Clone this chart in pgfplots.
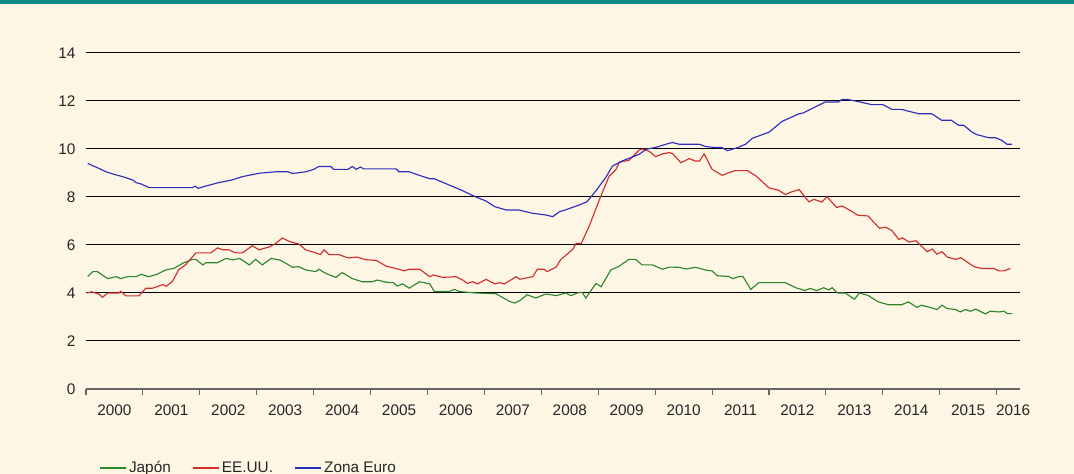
\documentclass[border=0pt]{standalone}
\usepackage{pgfplots}
\pgfplotsset{compat=1.18}
\usepackage{fontspec}
\setmainfont{Liberation Sans}
\definecolor{bgc}{RGB}{253,246,228}
\definecolor{teal1}{RGB}{14,138,138}
\definecolor{cJ}{RGB}{45,135,45}
\definecolor{cU}{RGB}{210,45,45}
\definecolor{cE}{RGB}{45,45,190}
\begin{document}
\begin{tikzpicture}[x=0.75pt,y=0.75pt]
\fill[bgc] (-86,-85) rectangle (988,389);
\fill[teal1] (-86,385) rectangle (988,389);
\begin{axis}[
  at={(0,0)}, anchor=south west,
  scale only axis, width=700.5pt, height=252pt,
  xmin=2000, xmax=2016.41, ymin=0, ymax=14,
  axis x line*=bottom, axis y line*=left,
  x axis line style={draw=black!60, line width=0.8pt},
  y axis line style={draw=none},
  ytick={0,2,...,14},
  ymajorgrids, grid style={black, line width=0.75pt},
  xtick={2000.5,2001.5,2002.5,2003.5,2004.5,2005.5,2006.5,2007.5,2008.5,2009.5,2010.5,2011.5,2012.5,2013.5,2014.5,2015.5,2016.29},
  xticklabels={2000,2001,2002,2003,2004,2005,2006,2007,2008,2009,2010,2011,2012,2013,2014,2015,2016},
  minor xtick={2000,2001,...,2016},
  major tick length=0pt, minor tick length=4.5pt, tick align=outside,
  minor tick style={draw=black!60, line width=0.8pt},
  /pgf/number format/assume math mode=true,
  ticklabel style={font=\fontsize{11.5}{13}\selectfont, text=black!85},
  yticklabel style={xshift=-4.4pt},
  xticklabel style={yshift=-8.5pt},
  yticklabel={\pgfmathprintnumber{\tick}},
  legend columns=-1,
  legend style={draw=none, fill=none, at={(0.0139,-0.235)}, anchor=west,
    font=\fontsize{11.5}{13}\selectfont, text=black!85, inner xsep=0pt,
    /tikz/every even column/.append style={column sep=14pt}},
  legend image code/.code={\draw[#1] (0pt,0pt) -- (19.5pt,0pt);},
  every axis plot/.append style={line width=0.85pt, mark=none},
]
\addplot[cJ] coordinates {
(2000.03,4.68)(2000.12,4.89)(2000.2,4.89)(2000.38,4.60)(2000.53,4.68)(2000.61,4.60)(2000.73,4.68)(2000.88,4.68)(2000.97,4.78)(2001.1,4.68)(2001.25,4.78)(2001.4,4.96)(2001.55,5.03)(2001.7,5.24)(2001.87,5.40)(2001.93,5.40)(2002.05,5.17)(2002.11,5.26)(2002.31,5.26)(2002.46,5.44)(2002.58,5.38)(2002.7,5.44)(2002.87,5.17)(2002.98,5.40)(2003.1,5.17)(2003.25,5.44)(2003.4,5.38)(2003.51,5.24)(2003.63,5.07)(2003.74,5.10)(2003.86,4.96)(2004.04,4.89)(2004.09,4.99)(2004.21,4.82)(2004.39,4.65)(2004.5,4.85)(2004.68,4.60)(2004.85,4.47)(2005.03,4.47)(2005.12,4.54)(2005.27,4.45)(2005.4,4.43)(2005.47,4.29)(2005.56,4.38)(2005.68,4.20)(2005.86,4.47)(2006.04,4.38)(2006.12,4.06)(2006.38,4.06)(2006.47,4.15)(2006.56,4.06)(2006.85,4.00)(2007.2,3.97)(2007.44,3.65)(2007.53,3.58)(2007.62,3.68)(2007.75,3.93)(2007.9,3.79)(2008.08,3.96)(2008.26,3.89)(2008.43,4.00)(2008.52,3.89)(2008.63,4.00)(2008.72,4.03)(2008.78,3.79)(2008.96,4.40)(2009.05,4.26)(2009.22,4.96)(2009.37,5.12)(2009.54,5.40)(2009.66,5.40)(2009.77,5.17)(2009.95,5.17)(2010.13,4.99)(2010.25,5.08)(2010.42,5.07)(2010.54,5.00)(2010.71,5.07)(2010.88,4.96)(2011.0,4.92)(2011.09,4.72)(2011.29,4.69)(2011.36,4.60)(2011.48,4.69)(2011.54,4.69)(2011.68,4.15)(2011.82,4.43)(2012.29,4.43)(2012.47,4.22)(2012.63,4.10)(2012.72,4.19)(2012.84,4.10)(2012.96,4.22)(2013.05,4.13)(2013.11,4.22)(2013.2,4.00)(2013.34,4.00)(2013.5,3.74)(2013.59,4.00)(2013.74,3.90)(2013.92,3.63)(2014.1,3.51)(2014.33,3.51)(2014.45,3.63)(2014.6,3.40)(2014.68,3.49)(2014.86,3.38)(2014.95,3.31)(2015.04,3.49)(2015.13,3.35)(2015.28,3.31)(2015.36,3.21)(2015.45,3.31)(2015.54,3.24)(2015.63,3.33)(2015.8,3.13)(2015.89,3.24)(2016.04,3.21)(2016.13,3.24)(2016.19,3.14)(2016.27,3.14)
};
\addlegendentry{Japón}
\addplot[cU] coordinates {
(2000.02,4.00)(2000.1,4.05)(2000.23,3.95)(2000.29,3.82)(2000.38,4.00)(2000.58,4.00)(2000.61,4.07)(2000.70,3.88)(2000.93,3.88)(2001.05,4.20)(2001.17,4.20)(2001.35,4.35)(2001.41,4.28)(2001.52,4.49)(2001.63,4.97)(2001.75,5.18)(2001.93,5.67)(2002.19,5.67)(2002.31,5.88)(2002.4,5.80)(2002.51,5.80)(2002.63,5.67)(2002.75,5.67)(2002.92,5.97)(2003.04,5.80)(2003.22,5.92)(2003.33,6.06)(2003.45,6.29)(2003.57,6.15)(2003.74,6.04)(2003.86,5.80)(2004.04,5.67)(2004.12,5.60)(2004.18,5.80)(2004.27,5.60)(2004.44,5.60)(2004.61,5.46)(2004.76,5.50)(2004.91,5.39)(2005.09,5.36)(2005.16,5.28)(2005.27,5.12)(2005.5,4.99)(2005.59,4.92)(2005.68,4.99)(2005.86,4.99)(2005.92,4.89)(2006.04,4.68)(2006.1,4.75)(2006.27,4.65)(2006.5,4.68)(2006.62,4.54)(2006.70,4.40)(2006.79,4.47)(2006.88,4.38)(2007.03,4.57)(2007.18,4.38)(2007.27,4.43)(2007.35,4.38)(2007.56,4.68)(2007.62,4.57)(2007.85,4.68)(2007.93,4.99)(2008.05,4.99)(2008.1,4.89)(2008.26,5.08)(2008.34,5.39)(2008.55,5.81)(2008.61,6.06)(2008.7,6.06)(2008.84,6.78)(2009.02,7.89)(2009.19,8.86)(2009.31,9.14)(2009.37,9.45)(2009.54,9.53)(2009.72,9.96)(2009.78,10.0)(2009.9,9.90)(2010.01,9.68)(2010.13,9.80)(2010.25,9.85)(2010.31,9.80)(2010.45,9.43)(2010.6,9.60)(2010.7,9.50)(2010.78,9.50)(2010.86,9.80)(2011.0,9.15)(2011.18,8.90)(2011.3,9.02)(2011.41,9.10)(2011.62,9.10)(2011.77,8.88)(2012.0,8.38)(2012.17,8.28)(2012.29,8.10)(2012.38,8.20)(2012.53,8.31)(2012.7,7.80)(2012.79,7.90)(2012.93,7.79)(2013.02,8.01)(2013.19,7.56)(2013.28,7.63)(2013.39,7.49)(2013.56,7.24)(2013.74,7.21)(2013.94,6.70)(2014.05,6.74)(2014.16,6.60)(2014.28,6.23)(2014.34,6.30)(2014.46,6.12)(2014.58,6.18)(2014.78,5.72)(2014.87,5.83)(2014.95,5.62)(2015.04,5.72)(2015.13,5.50)(2015.28,5.40)(2015.37,5.47)(2015.6,5.10)(2015.74,5.02)(2015.95,5.02)(2016.04,4.92)(2016.13,4.92)(2016.24,5.02)
};
\addlegendentry{EE.UU.}
\addplot[cE] coordinates {
(2000.03,9.40)(2000.12,9.30)(2000.23,9.19)(2000.35,9.05)(2000.53,8.92)(2000.64,8.85)(2000.82,8.71)(2000.88,8.60)(2000.97,8.54)(2001.11,8.39)(2001.87,8.39)(2001.92,8.45)(2001.97,8.36)(2002.05,8.42)(2002.33,8.60)(2002.55,8.70)(2002.75,8.85)(2003.04,8.99)(2003.33,9.05)(2003.55,9.05)(2003.63,8.98)(2003.86,9.05)(2004.0,9.15)(2004.09,9.27)(2004.3,9.27)(2004.35,9.15)(2004.6,9.15)(2004.68,9.27)(2004.75,9.15)(2004.82,9.25)(2004.88,9.17)(2005.1,9.17)(2005.45,9.17)(2005.5,9.05)(2005.68,9.05)(2005.86,8.90)(2006.04,8.76)(2006.12,8.76)(2006.33,8.55)(2006.62,8.26)(2006.85,8.00)(2007.03,7.83)(2007.18,7.60)(2007.38,7.46)(2007.6,7.46)(2007.85,7.32)(2008.08,7.25)(2008.2,7.18)(2008.32,7.39)(2008.42,7.46)(2008.67,7.67)(2008.8,7.80)(2008.96,8.26)(2009.13,8.81)(2009.25,9.29)(2009.42,9.50)(2009.72,9.78)(2009.84,9.99)(2010.0,10.06)(2010.19,10.20)(2010.3,10.27)(2010.42,10.20)(2010.77,10.20)(2010.89,10.10)(2011.06,10.06)(2011.17,10.06)(2011.27,9.93)(2011.44,10.05)(2011.59,10.20)(2011.71,10.45)(2012.0,10.70)(2012.23,11.15)(2012.53,11.47)(2012.6,11.50)(2012.99,11.96)(2013.22,11.96)(2013.28,12.06)(2013.39,12.06)(2013.6,11.96)(2013.8,11.85)(2014.0,11.85)(2014.16,11.65)(2014.33,11.65)(2014.46,11.57)(2014.63,11.47)(2014.86,11.47)(2015.03,11.20)(2015.2,11.20)(2015.33,10.99)(2015.42,10.99)(2015.57,10.70)(2015.65,10.60)(2015.86,10.47)(2015.98,10.47)(2016.09,10.36)(2016.18,10.20)(2016.27,10.20)
};
\addlegendentry{Zona Euro}
\end{axis}
\pgfresetboundingbox
\path (-86,-85) rectangle (988,389);
\end{tikzpicture}
\end{document}
